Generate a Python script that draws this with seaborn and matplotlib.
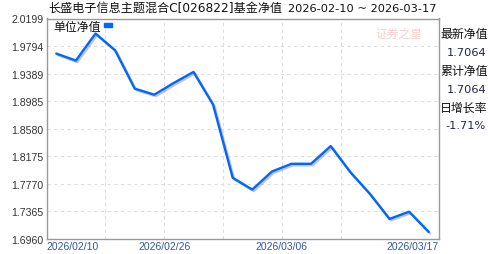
import numpy as np
import pandas as pd
import matplotlib
matplotlib.use("Agg")
import matplotlib.pyplot as plt
import matplotlib.patheffects as pe
import seaborn as sns

# ---- data ----
dates = ["2026-02-10", "2026-02-11", "2026-02-12", "2026-02-13", "2026-02-24",
         "2026-02-25", "2026-02-26", "2026-02-27", "2026-03-02", "2026-03-03",
         "2026-03-04", "2026-03-05", "2026-03-06", "2026-03-09", "2026-03-10",
         "2026-03-11", "2026-03-12", "2026-03-13", "2026-03-16", "2026-03-17"]
nav = [1.9684, 1.9581, 1.9978, 1.9732, 1.9169,
       1.9080, 1.9253, 1.9414, 1.8933, 1.7859,
       1.7686, 1.7951, 1.8065, 1.8065, 1.8325,
       1.7942, 1.7623, 1.7255, 1.7361, 1.7064]
y_ticks = [1.6960, 1.7365, 1.7770, 1.8175, 1.8580, 1.8985, 1.9389, 1.9794, 2.0199]
x_tick_labels = ["2026/02/10", "2026/02/26", "2026/03/06", "2026/03/17"]
title_name = "长盛电子信息主题混合C[026822]基金净值"
title_range = "2026-02-10 ~ 2026-03-17"
legend_label = "单位净值"
side_labels = ["最新净值", "累计净值", "日增长率"]
side_values = ["1.7064", "1.7064", "-1.71%"]

df = pd.DataFrame({"idx": np.arange(len(dates)), "nav": nav})

sns.set_style("white")
plt.rcParams["font.family"] = ["DejaVu Sans", "Noto Sans CJK SC"]

fig = plt.figure(figsize=(4.88, 2.55), dpi=100)
ax = fig.add_axes([46.5 / 488, 15 / 255, 392 / 488, 220.5 / 255])

sns.lineplot(data=df, x="idx", y="nav", ax=ax, color="#0066ff", linewidth=1.7,
             path_effects=[pe.SimpleLineShadow(offset=(1.1, -1.1), shadow_color="#888888", alpha=0.5),
                           pe.Normal()])

ax.set_xlim(-0.5, len(dates) - 0.5)
ax.set_ylim(y_ticks[0], y_ticks[-1])
ax.set_yticks(y_ticks)
ax.set_yticklabels([f"{v:.4f}" for v in y_ticks], fontsize=7.6, color="#333333",
                   family="Liberation Sans")
ax.tick_params(axis="y", length=0, pad=2)

# x labels at band starts of selected categories
xt = [-0.5, 5.5, 11.5, len(dates) - 0.5]
ax.set_xticks(xt)
ax.set_xticklabels(x_tick_labels, fontsize=7.5, color="#3355a0", family="Liberation Sans")
for lab, ha in zip(ax.get_xticklabels(), ["left", "center", "center", "right"]):
    lab.set_horizontalalignment(ha)
ax.tick_params(axis="x", length=0, pad=1.5)
ax.set_xlabel("")
ax.set_ylabel("")

# grid
for v in y_ticks[1:-1]:
    ax.axhline(v, color="#dddddd", linestyle=(0, (3, 3)), linewidth=0.8, zorder=0)
for xv in [2.5, 5.5, 8.5, 11.5, 14.5]:
    ax.axvline(xv, color="#dddddd", linestyle=(0, (3, 3)), linewidth=0.8, zorder=0)

for s in ax.spines.values():
    s.set_visible(True)
    s.set_color("#999999")
    s.set_linewidth(1.0)

# title
fig.text(48 / 488, 1 - 8.5 / 255, title_name, fontsize=8.7, color="#111111",
         ha="left", va="center", family=["DejaVu Sans", "Noto Sans CJK SC"])
fig.text(437 / 488, 1 - 8.5 / 255, title_range, fontsize=8.2, color="#111111",
         ha="right", va="center", family="DejaVu Sans")

# legend
fig.text(53 / 488, 1 - 27 / 255, legend_label,
         fontsize=8.6, color="#111111", ha="left", va="center", family="Noto Sans CJK SC")
fig.patches.append(plt.Rectangle((104 / 488, 1 - 27.5 / 255), 8 / 488, 3.5 / 255,
                                 transform=fig.transFigure, color="#0066ff"))

# watermark
fig.text(399 / 488, 1 - 34 / 255, "证券之星", fontsize=8.5, color="#f8c8c8",
         ha="center", va="center", family="Noto Sans CJK SC", alpha=0.9)

# side panel
ys = [35, 72, 108]
for lab, val, y in zip(side_labels, side_values, ys):
    fig.text(440 / 488, 1 - y / 255, lab, fontsize=8.6, color="#111111",
             ha="left", va="center", family="Noto Sans CJK SC")
    fig.text(486 / 488, 1 - (y + 18) / 255, val, fontsize=8.2, color="#222255",
             ha="right", va="center", family="DejaVu Sans")

fig.savefig("out.png", dpi=100)
